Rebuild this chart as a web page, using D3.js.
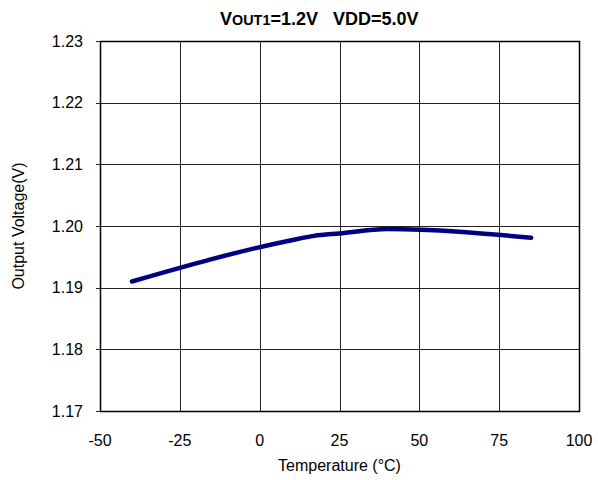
<!DOCTYPE html>
<html>
<head>
<meta charset="utf-8">
<script src="https://cdn.jsdelivr.net/npm/d3@7"></script>
<style>
  body { margin: 0; background: #fff; }
  svg { font-family: "Liberation Sans", Arial, sans-serif; }
</style>
</head>
<body>
<svg id="chart"></svg>
<script>
const temps = [-40, 10, 17, 25, 40, 85];
const volts = [1.1910, 1.1977, 1.1984, 1.1988, 1.1995, 1.1981];
const xTicks = [-50, -25, 0, 25, 50, 75, 100];
const yTicks = [1.17, 1.18, 1.19, 1.20, 1.21, 1.22, 1.23];

const width = 598;
const height = 480;
const margin = { top: 41, right: 19, bottom: 69, left: 100 };

const svg = d3.select("#chart")
  .attr("width", width)
  .attr("height", height);

const x = d3.scaleLinear().domain([-50, 100]).range([margin.left, width - margin.right]);
const y = d3.scaleLinear().domain([1.17, 1.23]).range([height - margin.bottom, margin.top]);

// grid
svg.append("g")
  .attr("stroke", "#222")
  .attr("stroke-width", 1)
  .selectAll("line.v")
  .data(xTicks)
  .join("line")
  .attr("x1", d => Math.round(x(d)) + 0.5)
  .attr("x2", d => Math.round(x(d)) + 0.5)
  .attr("y1", y(1.17))
  .attr("y2", y(1.23));

svg.append("g")
  .attr("stroke", "#222")
  .attr("stroke-width", 1)
  .selectAll("line")
  .data(yTicks)
  .join("line")
  .attr("x1", x(-50) - 4)
  .attr("x2", x(100))
  .attr("y1", d => Math.round(y(d)) + 0.5)
  .attr("y2", d => Math.round(y(d)) + 0.5);

// frame
svg.append("rect")
  .attr("x", x(-50) + 0.5)
  .attr("y", y(1.23) + 0.5)
  .attr("width", x(100) - x(-50))
  .attr("height", y(1.17) - y(1.23))
  .attr("fill", "none")
  .attr("stroke", "#000")
  .attr("stroke-width", 1.5);

// tick labels
svg.append("g")
  .selectAll("text")
  .data(yTicks)
  .join("text")
  .attr("x", x(-50) - 17)
  .attr("y", d => y(d))
  .attr("dy", "0.35em")
  .attr("text-anchor", "end")
  .attr("font-size", 16)
  .text(d => d3.format(".2f")(d));

svg.append("g")
  .selectAll("text")
  .data(xTicks)
  .join("text")
  .attr("x", d => x(d))
  .attr("y", y(1.17) + 35)
  .attr("text-anchor", "middle")
  .attr("font-size", 16)
  .text(d => d);

// axis titles
svg.append("text")
  .attr("x", (x(-50) + x(100)) / 2)
  .attr("y", 471)
  .attr("text-anchor", "middle")
  .attr("font-size", 16)
  .text("Temperature (°C)");

svg.append("text")
  .attr("transform", `translate(24,${(y(1.17) + y(1.23)) / 2}) rotate(-90)`)
  .attr("text-anchor", "middle")
  .attr("font-size", 16)
  .text("Output Voltage(V)");

// title
const title = svg.append("text")
  .attr("x", 220)
  .attr("y", 25)
  .attr("text-anchor", "start")
  .attr("font-size", 18)
  .attr("font-weight", "bold");
title.append("tspan").text("V");
title.append("tspan").attr("font-size", 14.4).text("OUT1");
title.append("tspan").text("=1.2V\u00a0\u00a0\u00a0VDD=5.0V");

// curve
const line = d3.line()
  .x((d, i) => x(temps[i]))
  .y(d => y(d))
  .curve(d3.curveMonotoneX);

svg.append("path")
  .datum(volts)
  .attr("fill", "none")
  .attr("stroke", "#000080")
  .attr("stroke-width", 4.5)
  .attr("stroke-linecap", "round")
  .attr("stroke-linejoin", "round")
  .attr("d", line);
</script>
</body>
</html>
